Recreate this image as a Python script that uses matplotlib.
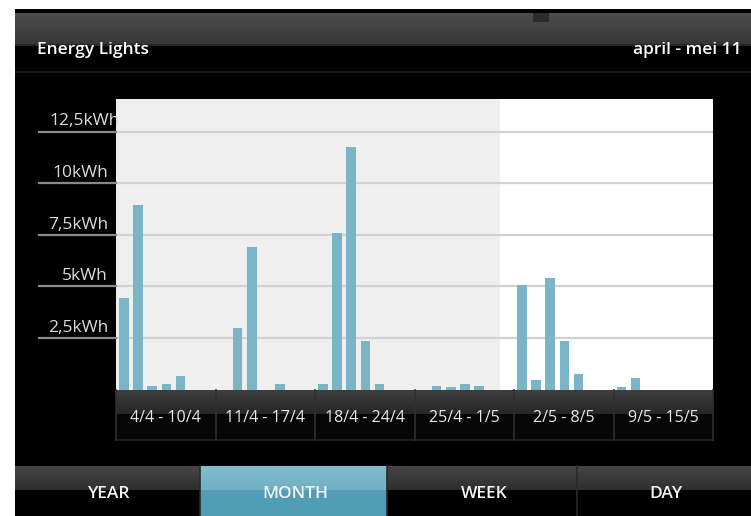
import numpy as np
import matplotlib
matplotlib.use("Agg")
import matplotlib.pyplot as plt
from matplotlib.patches import Rectangle
from matplotlib.transforms import blended_transform_factory

plt.rcParams['font.family'] = ['Open Sans', 'DejaVu Sans']

# daily energy use, 6 weeks x 7 days (kWh)
week_labels = ["4/4 - 10/4", "11/4 - 17/4", "18/4 - 24/4", "25/4 - 1/5", "2/5 - 8/5", "9/5 - 15/5"]
values = [
    4.45, 8.95, 0.17, 0.25, 0.65, 0, 0,
    0, 3.0, 6.92, 0, 0.25, 0, 0,
    0.25, 7.57, 11.75, 2.33, 0.25, 0, 0,
    0, 0.17, 0.14, 0.27, 0.18, 0, 0,
    5.06, 0.46, 5.40, 2.37, 0.75, 0, 0,
    0.1, 0.54, 0, 0, 0, 0, 0,
]
y_ticks = [2.5, 5, 7.5, 10, 12.5]
y_tick_labels = ["2,5kWh", "5kWh", "7,5kWh", "10kWh", "12,5kWh"]
past_days = 27
tabs = ["YEAR", "MONTH", "WEEK", "DAY"]
active_tab = "MONTH"

W, H = 751, 516
fig = plt.figure(figsize=(W / 100, H / 100), dpi=100)
fig.patch.set_facecolor("white")

# chrome layer in pixel coordinates
bg = fig.add_axes([0, 0, 1, 1])
bg.set_xlim(0, W)
bg.set_ylim(H, 0)
bg.axis("off")


def rect(x0, y0, x1, y1, color, z=1):
    bg.add_patch(Rectangle((x0, y0), x1 - x0, y1 - y0, facecolor=color, edgecolor="none", zorder=z))


def grad(x0, y0, x1, y1, c_top, c_bot, z=2):
    c_top = np.array(matplotlib.colors.to_rgb(c_top))
    c_bot = np.array(matplotlib.colors.to_rgb(c_bot))
    t = np.linspace(0, 1, 64)[:, None]
    img = (c_top * (1 - t) + c_bot * t)[:, None, :]
    bg.imshow(img, extent=[x0, x1, y1, y0], aspect="auto", zorder=z, interpolation="bilinear")


rect(15, 9, W, H, "black")
# header
grad(15, 13, W, 45, "#4d4d4d", "#363636")
rect(533, 13, 549, 22, "#2c2c2c", z=3)
rect(15, 44, W, 46, "#262626", z=3)
rect(15, 71, W, 73, "#1a1a1a", z=3)
bg.text(37, 50, "Energy Lights", color="white", fontsize=12.5, fontweight="semibold",
        va="center", ha="left", zorder=4)
bg.text(742, 50, "april - mei 11", color="white", fontsize=12.5, fontweight="semibold",
        va="center", ha="right", zorder=4)

# week band under the chart
grad(116, 390, 713, 414, "#3e3e3e", "#262626")
rect(116, 414, 713, 440, "#060606", z=2)
rect(116, 439, 713, 440.5, "#1e1e1e", z=3)

# tab bar
grad(15, 466, W, 490, "#454545", "#2e2e2e")
rect(15, 490, W, H, "black", z=2)
tab_edges = [15, 200, 387, 577, W]
for i, name in enumerate(tabs):
    x0, x1 = tab_edges[i], tab_edges[i + 1]
    if name == active_tab:
        grad(x0, 466, x1, 490, "#82bccd", "#72afc3", z=3)
        rect(x0, 490, x1, H, "#519db5", z=3)
    if i > 0:
        bg.plot([x0, x0], [466, H], color="#2a2a2a", lw=1.2, zorder=4)
    bg.text((x0 + x1) / 2 + 2, 494, name, color="#f4f4f4", fontsize=12.5, fontweight="semibold",
            ha="center", va="center", zorder=5)

# chart
x_left, x_right, y_top, y_base = 116, 713, 99, 389.5
px_per_unit = 20.64
ax = fig.add_axes([x_left / W, (H - y_base) / H, (x_right - x_left) / W, (y_base - y_top) / H])
n = len(values)
ax.set_xlim(0, n)
ax.set_ylim(0, (y_base - y_top) / px_per_unit)
ax.set_facecolor("white")
ax.axvspan(0, past_days, color="#efefef", zorder=0, lw=0)
for v in y_ticks:
    ax.axhline(v, color="#d2d2d2", lw=1.6, zorder=1)
ax.bar(np.arange(n) + 0.55, values, width=0.67, color="#7ab5c7", zorder=2)
for s in ax.spines.values():
    s.set_visible(False)
ax.set_xticks([])
ax.set_yticks([])

trans = blended_transform_factory(ax.transAxes, ax.transData)
ax_w = x_right - x_left
for v, lab in zip(y_ticks, y_tick_labels):
    ax.plot([(39 - x_left) / ax_w, 0], [v, v], color="#8a8a8a", lw=1.6,
            transform=trans, clip_on=False, zorder=3)
    xr = 120 if lab == "12,5kWh" else 108
    ax.text((xr - x_left) / ax_w, v + 0.1, lab, color="#dcdcdc", fontsize=12.5,
            ha="right", va="bottom", transform=trans, clip_on=False, zorder=3)

# week separators and labels in the band
band_h = y_base - y_top
tx = blended_transform_factory(ax.transData, ax.transAxes)
for k, lab in enumerate(week_labels):
    ax.text(k * 7 + 3.5, -(418 - y_base) / band_h, lab, color="#e8e8e8", fontsize=11.5,
            ha="center", va="center", transform=tx, clip_on=False, zorder=5)
for k in range(len(week_labels) + 1):
    ax.plot([k * 7, k * 7], [0, -(440 - y_base) / band_h], color="#303030", lw=1.2,
            transform=tx, clip_on=False, zorder=4)

fig.savefig("out.png", dpi=100, facecolor=fig.get_facecolor())
